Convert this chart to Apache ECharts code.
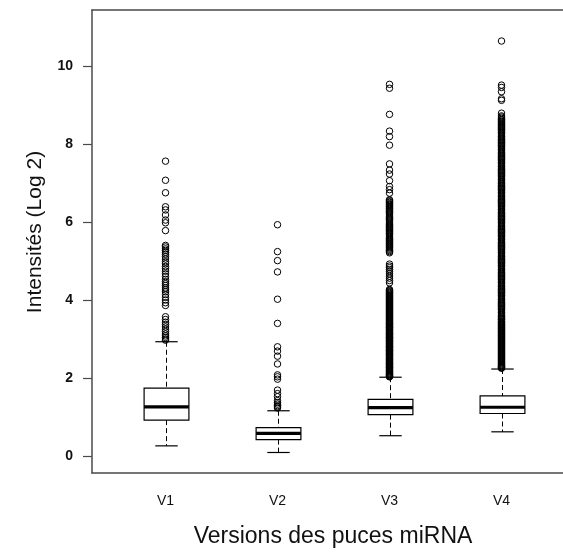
<!DOCTYPE html>
<html>
<head>
<meta charset="utf-8">
<script src="https://cdn.jsdelivr.net/npm/echarts@6/dist/echarts.min.js"></script>
<style>
html,body{margin:0;padding:0;background:#fff;}
#chart{width:563px;height:552px;}
</style>
</head>
<body>
<div id="chart"></div>
<script>
// ---- data ----
const categories = ['V1', 'V2', 'V3', 'V4'];
const whiskerLow  = [0.26, 0.09, 0.52, 0.62];
const quartile1   = [0.92, 0.42, 1.06, 1.09];
const medians     = [1.26, 0.58, 1.24, 1.25];
const quartile3   = [1.74, 0.73, 1.45, 1.54];
const whiskerHigh = [2.93, 1.16, 2.02, 2.23];
const yTicks = [0, 2, 4, 6, 8, 10];

const outV1 = [7.56, 7.07, 6.75, 6.39, 6.31, 6.18, 6.05, 5.98, 5.78, 5.40, 5.36, 5.31, 5.27, 5.22, 5.17,
  5.11, 5.05, 4.98, 4.93, 4.86, 4.80, 4.74, 4.67, 4.60, 4.53, 4.47, 4.42, 4.37, 4.31, 4.26, 4.21, 4.14,
  4.07, 4.00, 3.93, 3.86, 3.57, 3.50, 3.43, 3.37, 3.31, 3.25, 3.19, 3.13, 3.08, 3.04, 3.00, 2.97];
const outV2 = [5.93, 5.24, 5.01, 4.72, 4.02, 3.40, 2.80, 2.69, 2.56, 2.36, 2.08, 2.03, 1.97, 1.69, 1.60,
  1.52, 1.42, 1.37, 1.33, 1.29, 1.26, 1.23];
const outV3 = [9.53, 9.43, 8.76, 8.33, 8.19, 7.97, 7.49, 7.33, 7.23, 7.06, 6.91, 6.83, 6.74,
  6.57, 6.55, 6.52, 6.50, 6.47, 6.45, 6.43, 6.40, 6.38, 6.35, 6.33, 6.30, 6.27, 6.24, 6.21, 6.18,
  6.15, 6.12, 6.09, 6.06, 6.03, 6.00, 5.97, 5.94, 5.91, 5.88, 5.86, 5.83, 5.81, 5.78, 5.75, 5.72,
  5.70, 5.67, 5.64, 5.61, 5.58, 5.55, 5.53, 5.50, 5.48, 5.45, 5.43, 5.40, 5.38, 5.35, 5.33, 5.30,
  5.27, 5.24, 5.21,
  4.92, 4.87, 4.83, 4.78, 4.73, 4.67, 4.61, 4.56, 4.50, 4.44,
  4.27, 4.25, 4.23, 4.21, 4.19, 4.17, 4.15, 4.13, 4.11, 4.09, 4.07, 4.05, 4.03, 4.01, 3.99, 3.97,
  3.95, 3.93, 3.91, 3.89, 3.87, 3.85, 3.83, 3.81, 3.79, 3.77, 3.75, 3.73, 3.71, 3.69, 3.67, 3.65,
  3.63, 3.61, 3.59, 3.57, 3.55, 3.53, 3.51, 3.49, 3.47, 3.45, 3.43, 3.41, 3.40, 3.38, 3.36, 3.34,
  3.32, 3.30, 3.29, 3.27, 3.25, 3.23, 3.21, 3.19, 3.17, 3.15, 3.14, 3.12, 3.10, 3.08, 3.06, 3.04,
  3.03, 3.01, 2.99, 2.97, 2.95, 2.93, 2.92, 2.90, 2.88, 2.86, 2.84, 2.82, 2.81, 2.79, 2.77, 2.75,
  2.73, 2.71, 2.70, 2.68, 2.66, 2.64, 2.62, 2.60, 2.59, 2.57, 2.55, 2.53, 2.51, 2.49, 2.48, 2.46,
  2.44, 2.42, 2.40, 2.38, 2.37, 2.35, 2.33, 2.31, 2.29, 2.27, 2.26, 2.24, 2.22, 2.20, 2.18, 2.16,
  2.15, 2.13, 2.11, 2.09, 2.08, 2.06, 2.05, 2.04, 2.03];
const outV4 = [10.64, 9.51, 9.45, 9.34, 9.16, 9.12, 8.79, 8.72, 8.69, 8.66, 8.63, 8.61, 8.58, 8.56,
  8.53, 8.50, 8.47, 8.45, 8.42, 8.40, 8.37, 8.34, 8.31, 8.29, 8.26, 8.23, 8.20, 8.18, 8.15, 8.12,
  8.09, 8.07, 8.04, 8.01, 7.98, 7.96, 7.93, 7.90, 7.87, 7.85, 7.82, 7.79, 7.76, 7.74, 7.71, 7.68,
  7.65, 7.63, 7.60, 7.57, 7.54, 7.52, 7.49, 7.46, 7.43, 7.41, 7.38, 7.35, 7.32, 7.30, 7.27, 7.24,
  7.21, 7.19, 7.16, 7.13, 7.10, 7.08, 7.05, 7.02, 6.99, 6.97, 6.94, 6.91, 6.88, 6.86, 6.83, 6.80,
  6.77, 6.75, 6.72, 6.69, 6.66, 6.64, 6.61, 6.58, 6.55, 6.53, 6.50, 6.47, 6.44, 6.42, 6.39, 6.36,
  6.33, 6.31, 6.28, 6.25, 6.22, 6.20, 6.17, 6.14, 6.11, 6.09, 6.06, 6.03, 6.00, 5.98, 5.95, 5.92,
  5.89, 5.87, 5.84, 5.81, 5.78, 5.76, 5.73, 5.70, 5.67, 5.65, 5.62, 5.59, 5.56, 5.54, 5.51, 5.48,
  5.45, 5.43, 5.40, 5.37, 5.34, 5.32, 5.29, 5.26, 5.23, 5.21, 5.18, 5.15, 5.12, 5.10, 5.07, 5.04,
  5.01, 4.99, 4.96, 4.93, 4.90, 4.88, 4.85, 4.82, 4.79, 4.77, 4.74, 4.71, 4.68, 4.66, 4.63, 4.60,
  4.57, 4.55, 4.52, 4.49, 4.46, 4.44, 4.41, 4.38, 4.35, 4.33, 4.30, 4.27, 4.24, 4.22, 4.19, 4.16,
  4.13, 4.11, 4.08, 4.05, 4.02, 4.00, 3.97, 3.94, 3.91, 3.89, 3.86, 3.83, 3.80, 3.78, 3.75, 3.72,
  3.69, 3.67, 3.64, 3.61, 3.58, 3.56, 3.53, 3.51, 3.49, 3.46, 3.44, 3.42, 3.40, 3.38, 3.36,
  3.34, 3.32, 3.30, 3.28, 3.26, 3.24, 3.22, 3.20, 3.18, 3.16, 3.14, 3.12, 3.10, 3.08, 3.06, 3.04,
  3.02, 3.00, 2.98, 2.96, 2.94, 2.92, 2.90, 2.88, 2.86, 2.84, 2.82, 2.80, 2.78, 2.76, 2.74, 2.72,
  2.70, 2.68, 2.66, 2.64, 2.62, 2.60, 2.58, 2.56, 2.54, 2.52, 2.50, 2.48, 2.46, 2.44, 2.42, 2.40,
  2.38, 2.36, 2.34, 2.32, 2.30, 2.29, 2.27, 2.26, 2.25];
const outliers = [outV1, outV2, outV3, outV4];

const xTitle = 'Versions des puces miRNA';
const yTitle = 'Intensités (Log 2)';

// ---- build options ----
const boxData = categories.map((c, i) =>
  [i, whiskerLow[i], quartile1[i], medians[i], quartile3[i], whiskerHigh[i]]);
const outlierData = [];
outliers.forEach((arr, i) => arr.forEach(v => outlierData.push([i, v])));

const FONT = '"Liberation Sans", Arial, sans-serif';
const AXIS_COLOR = '#4a4a4a';
const Y_MIN = -0.436, Y_MAX = 11.436;

function renderBox(params, api) {
  const i = api.value(0);
  const lo = api.coord([i, api.value(1)]);
  const q1 = api.coord([i, api.value(2)]);
  const md = api.coord([i, api.value(3)]);
  const q3 = api.coord([i, api.value(4)]);
  const hi = api.coord([i, api.value(5)]);
  const band = api.size([1, 0])[0];
  const bw = band * 0.4, cw = band * 0.2;
  const x = Math.round(md[0]) + 0.5;
  const dashed = {stroke: '#000', lineWidth: 1, lineDash: [5, 3]};
  const solid = {stroke: '#000', lineWidth: 1.2};
  return {
    type: 'group',
    children: [
      {type: 'line', shape: {x1: x, y1: hi[1], x2: x, y2: q3[1]}, style: dashed},
      {type: 'line', shape: {x1: x, y1: q1[1], x2: x, y2: lo[1]}, style: dashed},
      {type: 'line', shape: {x1: x - cw / 2, y1: hi[1], x2: x + cw / 2, y2: hi[1]}, style: solid},
      {type: 'line', shape: {x1: x - cw / 2, y1: lo[1], x2: x + cw / 2, y2: lo[1]}, style: solid},
      {type: 'rect', shape: {x: x - bw / 2, y: q3[1], width: bw, height: q1[1] - q3[1]},
        style: {fill: '#fff', stroke: '#000', lineWidth: 1.2}},
      {type: 'line', shape: {x1: x - bw / 2, y1: md[1], x2: x + bw / 2, y2: md[1]},
        style: {stroke: '#000', lineWidth: 3.2}}
    ]
  };
}

const frameLine = {show: true, onZero: false, lineStyle: {color: AXIS_COLOR, width: 1.5}};

const chart = echarts.init(document.getElementById('chart'), null, {renderer: 'canvas'});
chart.setOption({
  animation: false,
  backgroundColor: '#fff',
  grid: [
    {left: 92, top: 10, width: 520, height: 463},
    {left: 92, top: 66, width: 100, height: 390},
    {left: 109.5, top: 10, width: 448, height: 463}
  ],
  xAxis: [
    {gridIndex: 0, type: 'value', min: 0, max: 1, position: 'bottom', axisLine: frameLine,
      axisTick: {show: false}, axisLabel: {show: false}, splitLine: {show: false}},
    {gridIndex: 0, type: 'value', min: 0, max: 1, position: 'top', axisLine: frameLine,
      axisTick: {show: false}, axisLabel: {show: false}, splitLine: {show: false}},
    {gridIndex: 1, type: 'value', show: false, min: 0, max: 1},
    {gridIndex: 2, type: 'category', data: categories, boundaryGap: true,
      axisLine: {show: false}, axisTick: {show: false}, splitLine: {show: false},
      axisLabel: {color: '#111', fontFamily: FONT, fontSize: 14, margin: 21}}
  ],
  yAxis: [
    {gridIndex: 0, type: 'value', min: Y_MIN, max: Y_MAX, position: 'left', axisLine: frameLine,
      axisTick: {show: false}, axisLabel: {show: false}, splitLine: {show: false}},
    {gridIndex: 1, type: 'value', min: yTicks[0], max: yTicks[yTicks.length - 1], interval: yTicks[1] - yTicks[0],
      axisLine: {show: false}, splitLine: {show: false},
      axisTick: {show: true, length: 9, lineStyle: {color: AXIS_COLOR, width: 1.2}},
      axisLabel: {color: '#111', fontFamily: FONT, fontSize: 14, fontWeight: 'bold', margin: 19}},
    {gridIndex: 2, type: 'value', show: false, min: Y_MIN, max: Y_MAX}
  ],
  graphic: [
    {type: 'text', x: 333, y: 537, style: {text: xTitle, font: '23px ' + FONT, fill: '#111', align: 'center', verticalAlign: 'middle'}},
    {type: 'text', x: 35, y: 232, rotation: Math.PI / 2, style: {text: yTitle, font: '21px ' + FONT, fill: '#111', align: 'center', verticalAlign: 'middle'}}
  ],
  series: [
    {type: 'scatter', xAxisIndex: 3, yAxisIndex: 2, data: outlierData, symbol: 'circle', symbolSize: 6.5,
      itemStyle: {color: 'rgba(0,0,0,0)', borderColor: '#000', borderWidth: 1, opacity: 1}, silent: true},
    {type: 'custom', xAxisIndex: 3, yAxisIndex: 2, data: boxData, renderItem: renderBox,
      encode: {x: 0, y: [1, 2, 3, 4, 5]}, silent: true}
  ]
});
</script>
</body>
</html>
